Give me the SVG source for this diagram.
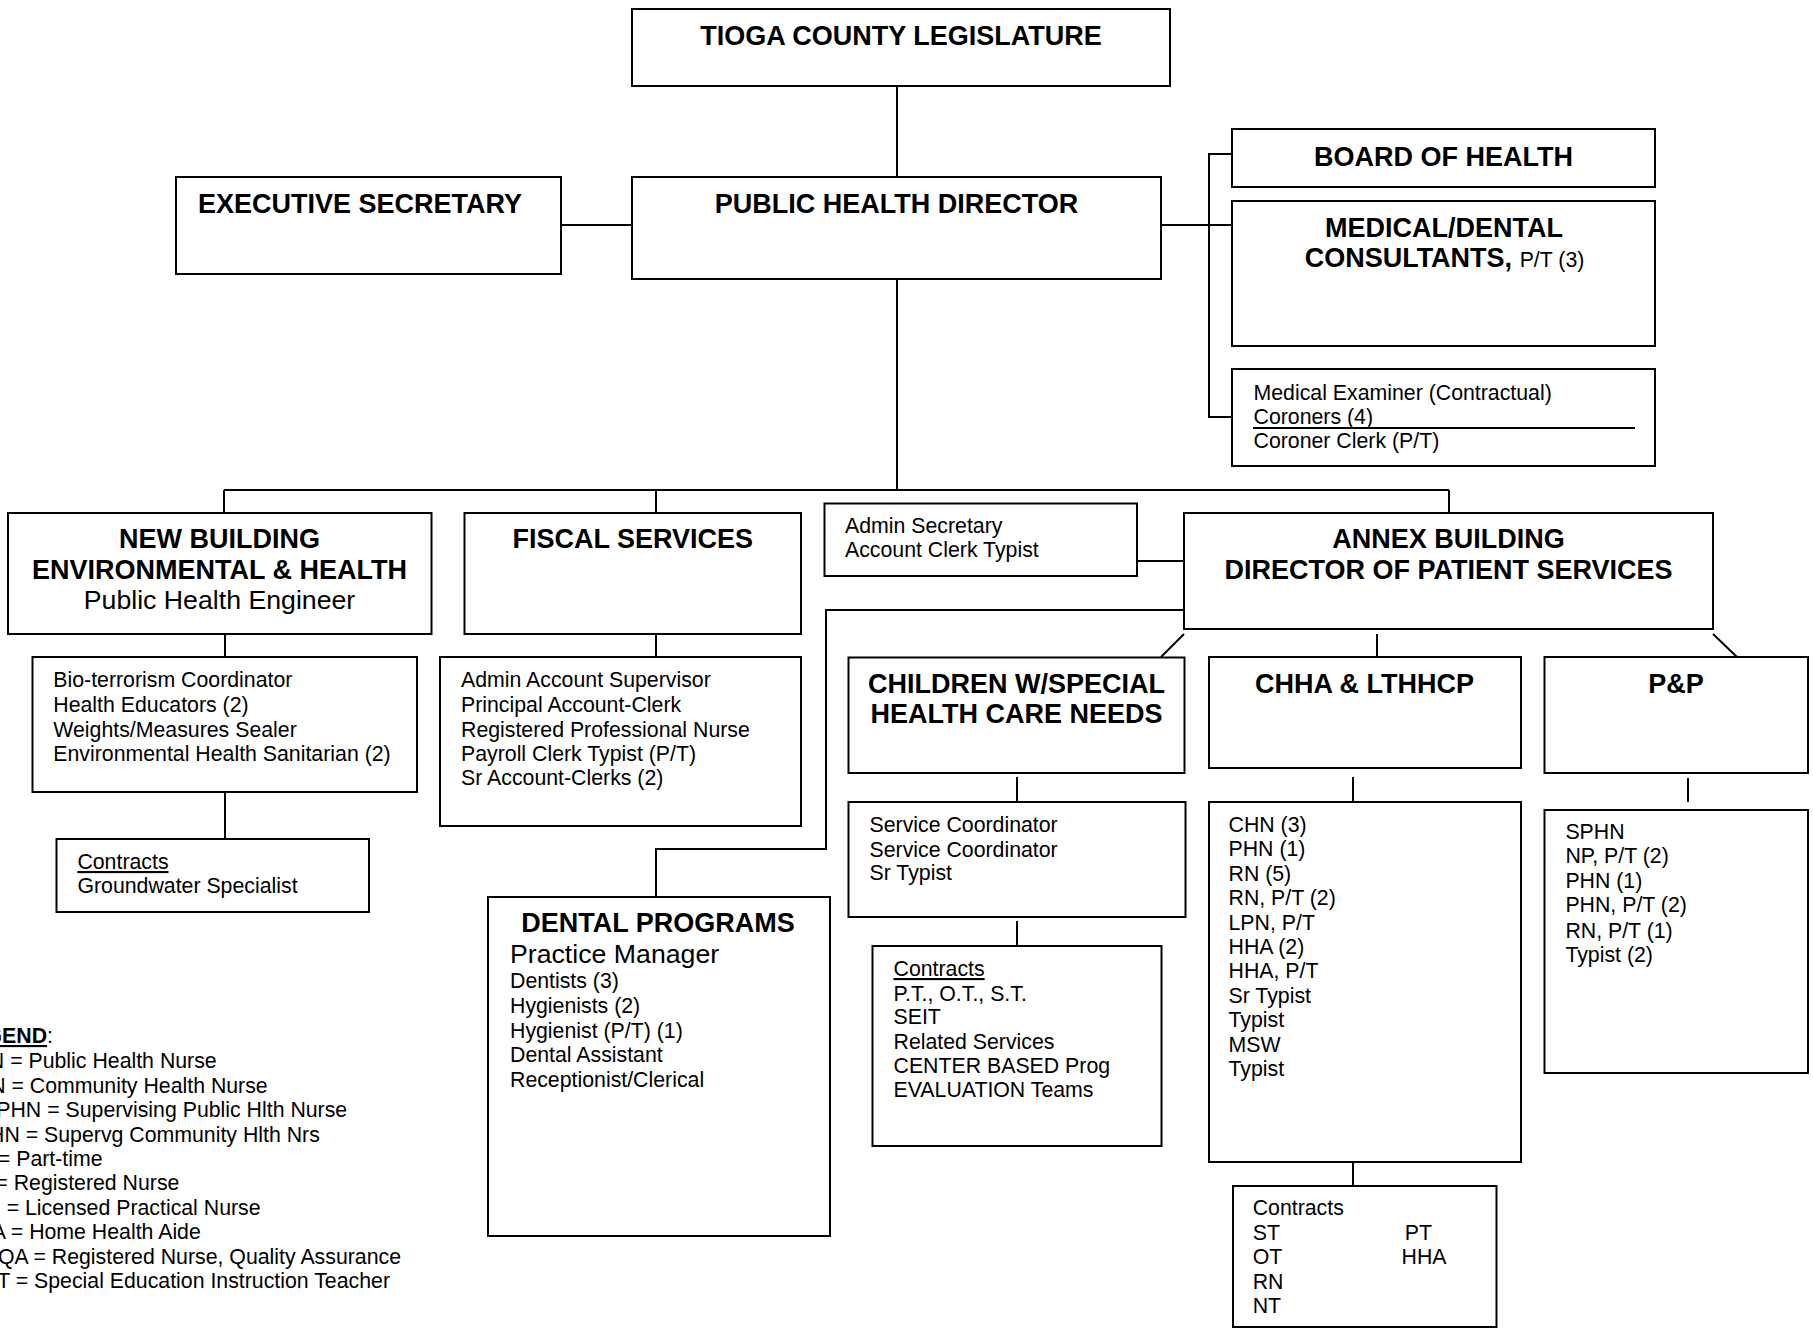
<svg xmlns="http://www.w3.org/2000/svg" width="1813" height="1329" viewBox="0 0 1813 1329">
<style>
.box{fill:#fff;stroke:#000;stroke-width:2}
.ln{fill:none;stroke:#000;stroke-width:2}
.h{font-family:"Liberation Sans",Arial,sans-serif;font-weight:bold;font-size:27px;fill:#000}
.t{font-family:"Liberation Sans",Arial,sans-serif;font-size:21.3px;fill:#000}
.b{font-family:"Liberation Sans",Arial,sans-serif;font-size:26.7px;fill:#000}
.c{text-anchor:middle}
.e{text-anchor:end}
.u{text-decoration:underline}
</style>
<rect width="1813" height="1329" fill="#fff"/>
<g id="connectors">
<line class="ln" x1="897" y1="86" x2="897" y2="177"/>
<line class="ln" x1="561" y1="225" x2="632" y2="225"/>
<line class="ln" x1="1161" y1="225" x2="1232" y2="225"/>
<polyline class="ln" points="1232,154 1209,154 1209,417 1232,417"/>
<line class="ln" x1="897" y1="279" x2="897" y2="490"/>
<line class="ln" x1="224" y1="490" x2="1449" y2="490"/>
<line class="ln" x1="224" y1="490" x2="224" y2="513"/>
<line class="ln" x1="656" y1="490" x2="656" y2="513"/>
<line class="ln" x1="1449" y1="490" x2="1449" y2="513"/>
<line class="ln" x1="225" y1="634" x2="225" y2="657"/>
<line class="ln" x1="225" y1="792" x2="225" y2="839"/>
<line class="ln" x1="656" y1="634" x2="656" y2="657"/>
<line class="ln" x1="1137" y1="561" x2="1184" y2="561"/>
<polyline class="ln" points="1184,610 826,610 826,849 656,849 656,897"/>
<line class="ln" x1="1184" y1="634" x2="1161" y2="657"/>
<line class="ln" x1="1377" y1="634" x2="1377" y2="657"/>
<line class="ln" x1="1713" y1="634" x2="1737" y2="657"/>
<line class="ln" x1="1017" y1="777" x2="1017" y2="802"/>
<line class="ln" x1="1353" y1="777" x2="1353" y2="802"/>
<line class="ln" x1="1688" y1="778" x2="1688" y2="802"/>
<line class="ln" x1="1017" y1="921" x2="1017" y2="946"/>
<line class="ln" x1="1353" y1="1162" x2="1353" y2="1186"/>
</g>
<g id="tioga">
<rect class="box" x="632" y="9" width="538" height="77"/>
<text class="h c" x="901" y="45">TIOGA COUNTY LEGISLATURE</text>
</g>
<g id="phd">
<rect class="box" x="632" y="177" width="529" height="102"/>
<text class="h c" x="896.5" y="213">PUBLIC HEALTH DIRECTOR</text>
</g>
<g id="exec">
<rect class="box" x="176" y="177" width="385" height="97"/>
<text class="h" x="198" y="213">EXECUTIVE SECRETARY</text>
</g>
<g id="board">
<rect class="box" x="1232" y="129" width="423" height="58"/>
<text class="h c" x="1443.5" y="166">BOARD OF HEALTH</text>
</g>
<g id="meddental">
<rect class="box" x="1232" y="201" width="423" height="145"/>
<text class="h c" x="1444" y="237">MEDICAL/DENTAL</text>
<text class="h c" x="1444.5" y="267">CONSULTANTS, <tspan style="font-weight:normal;font-size:21.3px">P/T (3)</tspan></text>
</g>
<g id="examiner">
<rect class="box" x="1232" y="369" width="423" height="97"/>
<text class="t" x="1253.5" y="400">Medical Examiner (Contractual)</text>
<text class="t" x="1253.5" y="424">Coroners (4)</text>
<line x1="1253" y1="428" x2="1635" y2="428" stroke="#000" stroke-width="2"/>
<text class="t" x="1253.5" y="448">Coroner Clerk (P/T)</text>
</g>
<g id="newbuilding">
<rect class="box" x="8" y="513" width="423.5" height="121"/>
<text class="h c" x="219.5" y="548">NEW BUILDING</text>
<text class="h c" x="219.5" y="579">ENVIRONMENTAL &amp; HEALTH</text>
<text class="b c" x="219.5" y="609">Public Health Engineer</text>
</g>
<g id="newbuilding-staff">
<rect class="box" x="32.5" y="657" width="384.5" height="135"/>
<text class="t" x="53.3" y="687">Bio-terrorism Coordinator</text>
<text class="t" x="53.3" y="712">Health Educators (2)</text>
<text class="t" x="53.3" y="737">Weights/Measures Sealer</text>
<text class="t" x="53.3" y="761">Environmental Health Sanitarian (2)</text>
</g>
<g id="newbuilding-contracts">
<rect class="box" x="56.5" y="839" width="312.5" height="73"/>
<text class="t u" x="77.4" y="869">Contracts</text>
<text class="t" x="77.4" y="893">Groundwater Specialist</text>
</g>
<g id="fiscal">
<rect class="box" x="464.5" y="513" width="336.5" height="121"/>
<text class="h c" x="632.7" y="548">FISCAL SERVICES</text>
</g>
<g id="fiscal-staff">
<rect class="box" x="440" y="657" width="361" height="169"/>
<text class="t" x="461" y="687">Admin Account Supervisor</text>
<text class="t" x="461" y="712">Principal Account-Clerk</text>
<text class="t" x="461" y="737">Registered Professional Nurse</text>
<text class="t" x="461" y="761">Payroll Clerk Typist (P/T)</text>
<text class="t" x="461" y="785">Sr Account-Clerks (2)</text>
</g>
<g id="admin">
<rect class="box" x="824.5" y="503.5" width="312.5" height="72.5"/>
<text class="t" x="845" y="533">Admin Secretary</text>
<text class="t" x="845" y="557">Account Clerk Typist</text>
</g>
<g id="annex">
<rect class="box" x="1184" y="513" width="529" height="116"/>
<text class="h c" x="1448.5" y="548">ANNEX BUILDING</text>
<text class="h c" x="1448.5" y="579">DIRECTOR OF PATIENT SERVICES</text>
</g>
<g id="dental">
<rect class="box" x="488" y="897" width="342" height="339"/>
<text class="h c" x="658" y="932">DENTAL PROGRAMS</text>
<text class="b" x="510" y="963">Practice Manager</text>
<text class="t" x="510" y="988">Dentists (3)</text>
<text class="t" x="510" y="1013">Hygienists (2)</text>
<text class="t" x="510" y="1038">Hygienist (P/T) (1)</text>
<text class="t" x="510" y="1062">Dental Assistant</text>
<text class="t" x="510" y="1087">Receptionist/Clerical</text>
</g>
<g id="children">
<rect class="box" x="848.5" y="657.5" width="336" height="115.5"/>
<text class="h c" x="1016.5" y="693">CHILDREN W/SPECIAL</text>
<text class="h c" x="1016.5" y="723">HEALTH CARE NEEDS</text>
</g>
<g id="children-staff">
<rect class="box" x="848.5" y="802" width="337" height="115"/>
<text class="t" x="869.5" y="832">Service Coordinator</text>
<text class="t" x="869.5" y="857">Service Coordinator</text>
<text class="t" x="869.5" y="880">Sr Typist</text>
</g>
<g id="children-contracts">
<rect class="box" x="872.5" y="946" width="289" height="200"/>
<text class="t u" x="893.5" y="976">Contracts</text>
<text class="t" x="893.5" y="1001">P.T., O.T., S.T.</text>
<text class="t" x="893.5" y="1024">SEIT</text>
<text class="t" x="893.5" y="1049">Related Services</text>
<text class="t" x="893.5" y="1073">CENTER BASED Prog</text>
<text class="t" x="893.5" y="1097">EVALUATION Teams</text>
</g>
<g id="chha">
<rect class="box" x="1209" y="657" width="312" height="111"/>
<text class="h c" x="1364.5" y="693">CHHA &amp; LTHHCP</text>
</g>
<g id="chha-staff">
<rect class="box" x="1209" y="802" width="312" height="360"/>
<text class="t" x="1228.5" y="832">CHN (3)</text>
<text class="t" x="1228.5" y="856">PHN (1)</text>
<text class="t" x="1228.5" y="881">RN (5)</text>
<text class="t" x="1228.5" y="905">RN, P/T (2)</text>
<text class="t" x="1228.5" y="930">LPN, P/T</text>
<text class="t" x="1228.5" y="954">HHA (2)</text>
<text class="t" x="1228.5" y="978">HHA, P/T</text>
<text class="t" x="1228.5" y="1003">Sr Typist</text>
<text class="t" x="1228.5" y="1027">Typist</text>
<text class="t" x="1228.5" y="1052">MSW</text>
<text class="t" x="1228.5" y="1076">Typist</text>
</g>
<g id="chha-contracts">
<rect class="box" x="1233" y="1186" width="263.5" height="141"/>
<text class="t" x="1252.7" y="1215">Contracts</text>
<text class="t" x="1252.7" y="1240">ST</text>
<text class="t" x="1252.7" y="1264">OT</text>
<text class="t" x="1252.7" y="1289">RN</text>
<text class="t" x="1252.7" y="1313">NT</text>
<text class="t" x="1404.7" y="1240">PT</text>
<text class="t" x="1401.6" y="1264">HHA</text>
</g>
<g id="pp">
<rect class="box" x="1544.5" y="657" width="263.5" height="116"/>
<text class="h c" x="1676" y="693">P&amp;P</text>
</g>
<g id="pp-staff">
<rect class="box" x="1544.5" y="810" width="263.5" height="263"/>
<text class="t" x="1565.4" y="839">SPHN</text>
<text class="t" x="1565.4" y="863">NP, P/T (2)</text>
<text class="t" x="1565.4" y="888">PHN (1)</text>
<text class="t" x="1565.4" y="912">PHN, P/T (2)</text>
<text class="t" x="1565.4" y="938">RN, P/T (1)</text>
<text class="t" x="1565.4" y="962">Typist (2)</text>
</g>
<g id="legend">
<text class="t e" x="53" y="1043"><tspan style="font-weight:bold;text-decoration:underline">GEND</tspan>:</text>
<text class="t e" x="216.7" y="1068">N = Public Health Nurse</text>
<text class="t e" x="267.7" y="1093">N = Community Health Nurse</text>
<text class="t e" x="347.2" y="1117">PHN = Supervising Public Hlth Nurse</text>
<text class="t e" x="319.8" y="1142">HN = Supervg Community Hlth Nrs</text>
<text class="t e" x="102.6" y="1166">= Part-time</text>
<text class="t e" x="179.4" y="1190">= Registered Nurse</text>
<text class="t e" x="260.6" y="1215">= Licensed Practical Nurse</text>
<text class="t e" x="200.8" y="1239">A = Home Health Aide</text>
<text class="t e" x="401" y="1264">QA = Registered Nurse, Quality Assurance</text>
<text class="t e" x="390" y="1288">T = Special Education Instruction Teacher</text>
</g>
</svg>
